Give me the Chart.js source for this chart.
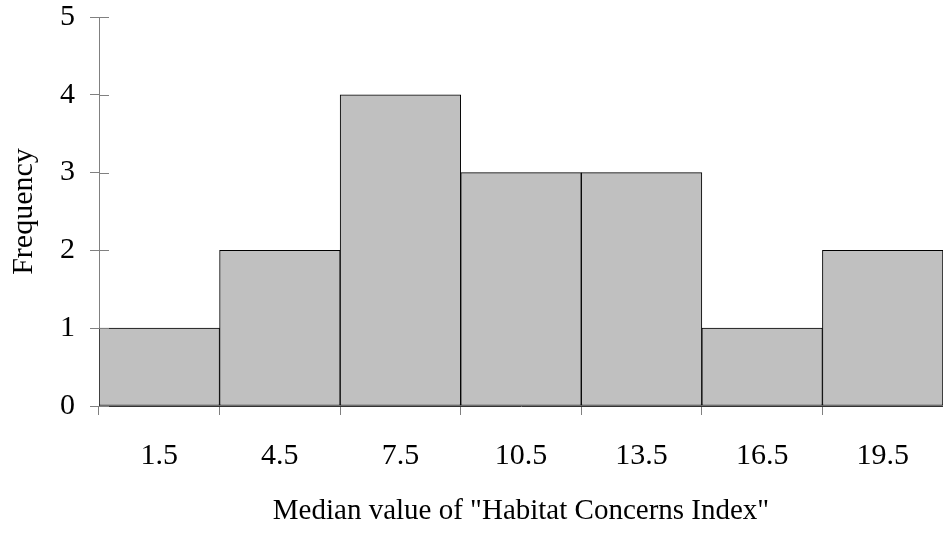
<!DOCTYPE html>
<html>
<head>
<meta charset="utf-8">
<script src="https://cdn.jsdelivr.net/npm/chart.js@4"></script>
<style>
  html, body { margin: 0; padding: 0; background: #fff; }
  #wrap { width: 943px; height: 533px; }
</style>
</head>
<body>
<div id="wrap"><canvas id="hist"></canvas></div>
<script>
// bin centres and counts
const binLabels = ["1.5", "4.5", "7.5", "10.5", "13.5", "16.5", "19.5"];
const frequency = [1, 2, 4, 3, 3, 1, 2];
const yTicks = [0, 1, 2, 3, 4, 5];

const serif = "'Liberation Serif', 'Times New Roman', serif";

// small tick marks that stick into the plot from the y axis
const innerTicks = {
  id: "innerTicks",
  afterDraw(chart) {
    const ctx = chart.ctx;
    const y = chart.scales.y;
    ctx.save();
    ctx.strokeStyle = "#808080";
    ctx.lineWidth = 1;
    yTicks.forEach((v) => {
      const py = Math.round(y.getPixelForValue(v)) + 0.5;
      ctx.beginPath();
      ctx.moveTo(y.right, py);
      ctx.lineTo(y.right + 10, py);
      ctx.stroke();
    });
    ctx.restore();
  },
};

const data = {
  labels: binLabels,
  datasets: [
    {
      label: "Frequency",
      data: frequency,
      backgroundColor: "#c0c0c0",
      borderColor: "#000000",
      borderWidth: 1,
      borderSkipped: false,
      barPercentage: 1,
      categoryPercentage: 1,
    },
  ],
};

const config = {
  type: "bar",
  data: data,
  options: {
    responsive: true,
    maintainAspectRatio: false,
    animation: false,
    layout: { padding: { top: 0, right: 0, left: 0, bottom: 0 } },
    plugins: {
      legend: { display: false },
      tooltip: { enabled: false },
    },
    scales: {
      x: {
        afterFit(scale) {
          scale.height = 127;
        },
        grid: {
          offset: true,
          drawOnChartArea: false,
          tickLength: 9,
          color: "#808080",
        },
        border: { color: "#333333" },
        ticks: {
          color: "#000",
          padding: 23,
          font: { family: serif, size: 30 },
          maxRotation: 0,
        },
        title: {
          display: true,
          text: 'Median value of "Habitat Concerns Index"',
          color: "#000",
          font: { family: serif, size: 29 },
          padding: { top: 4, bottom: 4 },
        },
      },
      y: {
        min: 0,
        max: 5,
        afterFit(scale) {
          scale.width = 99;
          scale.paddingTop = 17;
        },
        grid: {
          drawOnChartArea: false,
          tickLength: 9,
          color: "#808080",
        },
        border: { color: "#808080" },
        ticks: {
          stepSize: 1,
          color: "#000",
          padding: 15,
          font: { family: serif, size: 30 },
        },
        title: {
          display: true,
          text: "Frequency",
          color: "#000",
          font: { family: serif, size: 30 },
          padding: { top: 6, bottom: 0 },
        },
      },
    },
  },
  plugins: [innerTicks],
};

const canvas = document.getElementById("hist");
const chart = new Chart(canvas, config);
</script>
</body>
</html>
